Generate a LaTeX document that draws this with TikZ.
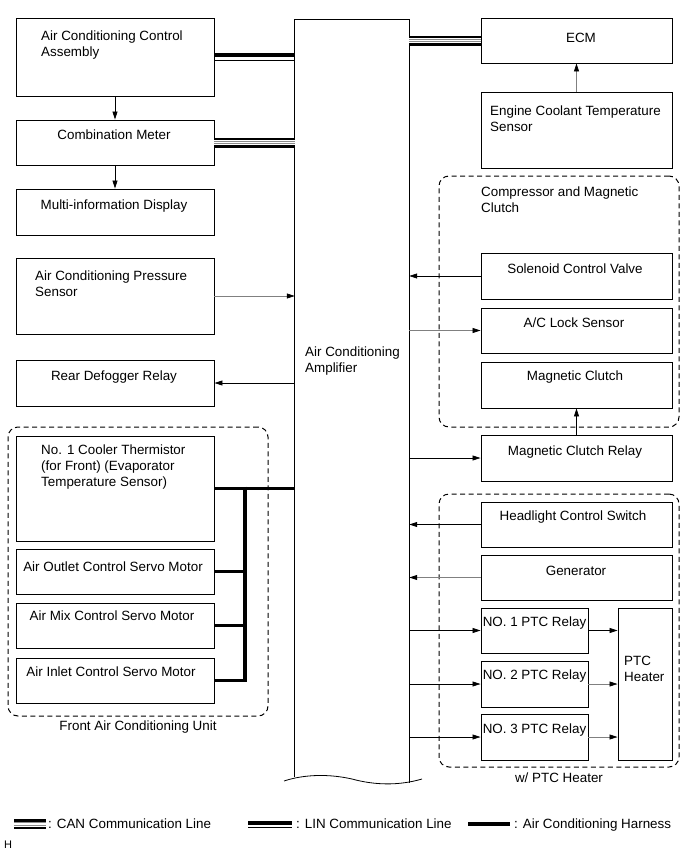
\documentclass[tikz,border=0pt]{standalone}
\usepackage{fontspec}
\setmainfont{Liberation Sans}
\usetikzlibrary{arrows.meta}
\newcommand{\fsz}{\fontsize{13.4}{16}\selectfont}
\begin{document}
\begin{tikzpicture}[x=1pt,y=-1pt,
  box/.style={draw=black, line width=0.9pt, inner sep=0pt},
  ctxt/.style={inner sep=0pt, anchor=north, font=\fsz, align=center},
  ltxt/.style={inner sep=0pt, anchor=north west, font=\fsz, align=left},
  grp/.style={draw=black, line width=1pt, dash pattern=on 5pt off 3.5pt, rounded corners=10pt, inner sep=0pt},
  arr/.style={line width=0.7pt, -{Triangle[length=8pt,width=5pt]}},
  garr/.style={line width=0.7pt, draw=black!50, -{Triangle[length=8pt,width=5pt,color=black]}},
  harness/.style={line width=3.6pt},
  canl/.style={line width=10pt, draw=black,
     postaction={draw=white, line width=5pt},
     postaction={draw=black!45, line width=3.4pt},
     postaction={draw=white, line width=1.6pt}},
  linb/.style={line width=4.8pt, draw=black!40, postaction={draw=black, line width=3.2pt}},
  linthin/.style={line width=0.8pt, draw=black},
]
\useasboundingbox (0,0) rectangle (691,854);

% amplifier
\node[inner sep=0pt, minimum width=114pt, minimum height=760pt] (amp) at (352,400) {};
\draw[line width=0.9pt] ([yshift=3pt]amp.south west) -- (amp.north west) -- (amp.north east) -- ([yshift=-3pt]amp.south east);
\draw[line width=0.8pt] (284,781) .. controls (305,774) and (330,774) .. (352,779) .. controls (374,785) and (398,786) .. (422,779);
\node[ltxt] (ampt) at (305,347) {Air Conditioning\\Amplifier};

% left column
\node[box, minimum width=198pt, minimum height=78pt] (acca) at (115,57) {};
\node[ltxt] (accat) at (41,31) {Air Conditioning Control\\Assembly};
\node[box, minimum width=198pt, minimum height=45pt] (cm) at (115,142.5) {};
\node[ctxt] (cmt) at (114,130) {Combination Meter};
\node[box, minimum width=198pt, minimum height=46pt] (mid) at (115,212) {};
\node[ctxt] (midt) at (114,200) {Multi-information Display};
\node[box, minimum width=198pt, minimum height=76pt] (acps) at (115,296) {};
\node[ltxt] (acpst) at (35,270.5) {Air Conditioning Pressure\\Sensor};
\node[box, minimum width=198pt, minimum height=46pt] (rdr) at (115,383) {};
\node[ctxt] (rdrt) at (114,370.5) {Rear Defogger Relay};

% front air conditioning unit
\node[grp, minimum width=260pt, minimum height=289pt] (front) at (138,571.5) {};
\node[ctxt] (frontt) at (138,721) {Front Air Conditioning Unit};
\node[box, minimum width=198pt, minimum height=105pt] (therm) at (115,488.5) {};
\node[ltxt] (thermt) at (41,445) {No. 1 Cooler Thermistor\\(for Front) (Evaporator\\Temperature Sensor)};
\node[box, minimum width=198pt, minimum height=45pt] (outlet) at (115,571.5) {};
\node[ctxt] (outlett) at (113,561.5) {Air Outlet Control Servo Motor};
\node[box, minimum width=198pt, minimum height=45pt] (mix) at (115,625.5) {};
\node[ctxt] (mixt) at (112,610.5) {Air Mix Control Servo Motor};
\node[box, minimum width=198pt, minimum height=45pt] (inlet) at (115,680.5) {};
\node[ctxt] (inlett) at (111,667) {Air Inlet Control Servo Motor};

% right column
\node[box, minimum width=191pt, minimum height=45pt] (ecm) at (576.5,40.5) {};
\node[ctxt] (ecmt) at (581,33) {ECM};
\node[box, minimum width=191pt, minimum height=76pt] (ects) at (576.5,130) {};
\node[ltxt] (ectst) at (490,106) {Engine Coolant Temperature\\Sensor};

\node[grp, minimum width=240pt, minimum height=251pt] (comp) at (559,301.5) {};
\node[ltxt] (compt) at (481,186.5) {Compressor and Magnetic\\Clutch};
\node[box, minimum width=191pt, minimum height=46pt] (scv) at (576.5,276) {};
\node[ctxt] (scvt) at (575,264) {Solenoid Control Valve};
\node[box, minimum width=191pt, minimum height=45pt] (acl) at (576.5,330.5) {};
\node[ctxt] (aclt) at (574,318) {A/C Lock Sensor};
\node[box, minimum width=191pt, minimum height=46pt] (mc) at (576.5,385) {};
\node[ctxt] (mct) at (575,371) {Magnetic Clutch};
\node[box, minimum width=191pt, minimum height=46pt] (mcr) at (576.5,458) {};
\node[ctxt] (mcrt) at (575,445.5) {Magnetic Clutch Relay};

\node[grp, minimum width=240pt, minimum height=273pt] (ptc) at (559,630.5) {};
\node[ctxt] (ptct) at (559,773) {w/ PTC Heater};
\node[box, minimum width=191pt, minimum height=45pt] (hcs) at (576.5,524.5) {};
\node[ctxt] (hcst) at (573,511) {Headlight Control Switch};
\node[box, minimum width=191pt, minimum height=45pt] (gen) at (576.5,577.5) {};
\node[ctxt] (gent) at (576,566) {Generator};
\node[box, minimum width=107pt, minimum height=45pt] (r1) at (534.5,630.5) {};
\node[ctxt] (r1t) at (534.5,616.5) {NO. 1 PTC Relay};
\node[box, minimum width=107pt, minimum height=46pt] (r2) at (534.5,684) {};
\node[ctxt] (r2t) at (534.5,670) {NO. 2 PTC Relay};
\node[box, minimum width=107pt, minimum height=46pt] (r3) at (534.5,737) {};
\node[ctxt] (r3t) at (534.5,724) {NO. 3 PTC Relay};
\node[box, minimum width=54pt, minimum height=152pt] (heater) at (645,684) {};
\node[ltxt] (heatert) at (624,655.5) {PTC\\Heater};

% communication lines
\draw[canl] (cm.east) -- (cm.east -| amp.west);
\draw[canl] (ecm.west) -- (ecm.west -| amp.east);
\draw[linb] ([yshift=2pt]acca.east) -- ([yshift=2pt]acca.east -| amp.west);
\draw[linthin] ([yshift=-3pt]acca.east) -- ([yshift=-3pt]acca.east -| amp.west);

% arrows left
\draw[arr] (acca.south) -- (cm.north);
\draw[arr] (cm.south) -- (mid.north);
\draw[garr] (acps.east) -- (acps.east -| amp.west);
\draw[arr] (rdr.east -| amp.west) -- (rdr.east);

% harness
\coordinate (bus) at (245,488.5);
\draw[harness] (therm.east) -- (therm.east -| amp.west);
\draw[harness] ([yshift=1.8pt]bus) -- (inlet.east -| bus);
\draw[harness] (outlet.east) -- (outlet.east -| bus);
\draw[harness] (mix.east) -- (mix.east -| bus);
\draw[harness] (inlet.east) -- ([xshift=1.8pt]inlet.east -| bus);

% arrows right
\draw[garr] (ects.north) -- (ecm.south);
\draw[arr] (scv.west) -- (scv.west -| amp.east);
\draw[garr] (acl.west -| amp.east) -- (acl.west);
\draw[arr] (mcr.north) -- (mc.south);
\draw[arr] (mcr.west -| amp.east) -- (mcr.west);
\draw[arr] (hcs.west) -- (hcs.west -| amp.east);
\draw[garr] (gen.west) -- (gen.west -| amp.east);
\draw[arr] (r1.west -| amp.east) -- (r1.west);
\draw[arr] (r2.west -| amp.east) -- (r2.west);
\draw[arr] (r3.west -| amp.east) -- (r3.west);
\draw[arr] (r1.east) -- (r1.east -| heater.west);
\draw[garr] (r2.east) -- (r2.east -| heater.west);
\draw[garr] (r3.east) -- (r3.east -| heater.west);

% legend
\coordinate (c1) at (14,824); \coordinate (c2) at (46,824);
\draw[canl] (c1) -- (c2);
\node[ltxt] (cant) at (48,819) {: CAN Communication Line};
\coordinate (l1) at (248,823); \coordinate (l2) at (292,823);
\draw[linb] (l1) -- (l2);
\draw[linthin] ([yshift=-4pt]l1) -- ([yshift=-4pt]l2);
\node[ltxt] (lint) at (296,819) {: LIN Communication Line};
\coordinate (h1) at (468,824); \coordinate (h2) at (510,824);
\draw[harness] (h1) -- (h2);
\node[ltxt] (hart) at (514,819) {: Air Conditioning Harness};
\node[inner sep=0pt, anchor=north west, font=\fontsize{11}{13}\selectfont] (hmark) at (4,841) {H};
\end{tikzpicture}
\end{document}
